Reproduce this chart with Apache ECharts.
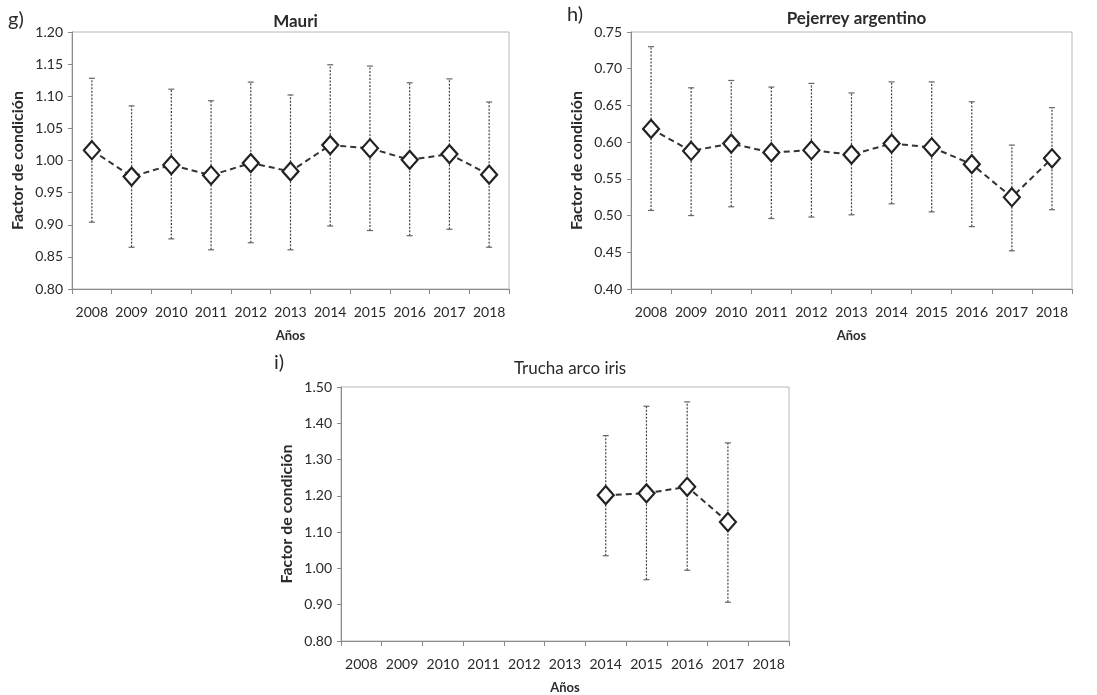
<!DOCTYPE html>
<html>
<head>
<meta charset="utf-8">
<script src="https://cdn.jsdelivr.net/npm/echarts@6/dist/echarts.min.js"></script>
<style>
  html, body { margin: 0; padding: 0; background: #fff; }
  #chart { width: 1097px; height: 695px; }
</style>
</head>
<body>
<div id="chart"></div>
<script>
// Condition factor by year (mean and range) for three fish species
const years = ['2008', '2009', '2010', '2011', '2012', '2013', '2014', '2015', '2016', '2017', '2018'];

// g) Mauri
const mauriMean = [1.016, 0.975, 0.993, 0.977, 0.996, 0.983, 1.024, 1.019, 1.001, 1.010, 0.978];
const mauriLow  = [0.904, 0.865, 0.878, 0.861, 0.872, 0.861, 0.898, 0.891, 0.883, 0.893, 0.865];
const mauriHigh = [1.128, 1.085, 1.111, 1.093, 1.122, 1.102, 1.149, 1.147, 1.121, 1.127, 1.091];

// h) Pejerrey argentino
const pejMean = [0.618, 0.588, 0.598, 0.586, 0.589, 0.583, 0.598, 0.593, 0.570, 0.525, 0.578];
const pejLow  = [0.507, 0.500, 0.512, 0.496, 0.498, 0.501, 0.516, 0.505, 0.485, 0.452, 0.508];
const pejHigh = [0.730, 0.674, 0.684, 0.675, 0.680, 0.667, 0.682, 0.682, 0.655, 0.596, 0.647];

// i) Trucha arco iris (sampled 2014-2017 only)
const truMean = [null, null, null, null, null, null, 1.202, 1.207, 1.225, 1.128, null];
const truLow  = [null, null, null, null, null, null, 1.035, 0.969, 0.995, 0.907, null];
const truHigh = [null, null, null, null, null, null, 1.366, 1.447, 1.459, 1.346, null];

const panelTitles = ['Mauri', 'Pejerrey argentino', 'Trucha arco iris'];
const panelTags = ['g)', 'h)', 'i)'];
const xName = 'Años';
const yName = 'Factor de condición';

const FONT = 'Lato, "Noto Sans", sans-serif';
const TXT = '#2a2a2a';

const grids = [
  { left: 72, top: 32, width: 437, height: 257 },
  { left: 631, top: 32, width: 441, height: 257 },
  { left: 341, top: 387, width: 448, height: 255 }
];
// panel title offsets and tag positions
const titleTop = [8, 5, 355];
const titleWeight = ['bold', 'bold', 'normal'];
const tagPos = [[8, 10], [567, 5], [274, 353]];

const yRanges = [
  { min: 0.80, max: 1.20, interval: 0.05 },
  { min: 0.40, max: 0.75, interval: 0.05 },
  { min: 0.80, max: 1.50, interval: 0.10 }
];
const means = [mauriMean, pejMean, truMean];
const lows = [mauriLow, pejLow, truLow];
const highs = [mauriHigh, pejHigh, truHigh];

function errorBarItem(params, api) {
  const x = api.value(0);
  const lo = api.coord([x, api.value(1)]);
  const hi = api.coord([x, api.value(2)]);
  const cap = 3;
  const style = { stroke: '#444', lineWidth: 1.2, lineDash: [2, 1.5] };
  const capStyle = { stroke: '#666', lineWidth: 1.2 };
  return {
    type: 'group',
    children: [
      { type: 'line', shape: { x1: lo[0], y1: lo[1], x2: hi[0], y2: hi[1] }, style: style },
      { type: 'line', shape: { x1: hi[0] - cap, y1: hi[1], x2: hi[0] + cap, y2: hi[1] }, style: capStyle },
      { type: 'line', shape: { x1: lo[0] - cap, y1: lo[1], x2: lo[0] + cap, y2: lo[1] }, style: capStyle }
    ]
  };
}

const option = {
  backgroundColor: '#fff',
  animation: false,
  title: grids.map((g, i) => ({
    text: panelTitles[i],
    left: g.left + g.width / 2,
    top: titleTop[i],
    textAlign: 'center',
    textStyle: { fontFamily: FONT, fontSize: 17, fontWeight: titleWeight[i], color: TXT }
  })),
  graphic: grids.map((g, i) => ({
    type: 'text',
    left: tagPos[i][0],
    top: tagPos[i][1],
    style: { text: panelTags[i], font: '20px ' + FONT, fill: TXT }
  })),
  grid: grids.map(g => Object.assign({
    show: true, borderColor: '#b8b8b8', borderWidth: 1, backgroundColor: '#fff'
  }, g)),
  xAxis: grids.map((g, i) => ({
    type: 'category',
    gridIndex: i,
    data: years,
    boundaryGap: true,
    name: xName,
    nameLocation: 'middle',
    nameGap: 40,
    nameTextStyle: { fontFamily: FONT, fontSize: 13, fontWeight: 'bold', color: TXT },
    axisLine: { lineStyle: { color: '#8a8a8a', width: 1 } },
    axisTick: { show: true, length: 5, lineStyle: { color: '#8a8a8a' } },
    axisLabel: { fontFamily: FONT, fontSize: 14, color: TXT, margin: 16, interval: 0 },
    splitLine: { show: false }
  })),
  yAxis: grids.map((g, i) => ({
    type: 'value',
    gridIndex: i,
    min: yRanges[i].min,
    max: yRanges[i].max,
    interval: yRanges[i].interval,
    name: yName,
    nameLocation: 'middle',
    nameGap: 46,
    nameTextStyle: { fontFamily: FONT, fontSize: 16, fontWeight: 'bold', color: TXT },
    axisLine: { show: true, lineStyle: { color: '#8a8a8a', width: 1 } },
    axisTick: { show: true, length: 4, lineStyle: { color: '#8a8a8a' } },
    axisLabel: {
      fontFamily: FONT, fontSize: 14, color: TXT, margin: 9,
      formatter: v => v.toFixed(2)
    },
    splitLine: { show: false }
  })),
  series: [].concat(...grids.map((g, i) => [
    {
      type: 'custom',
      xAxisIndex: i,
      yAxisIndex: i,
      renderItem: errorBarItem,
      encode: { x: 0, y: [1, 2] },
      data: years.map((y, k) => lows[i][k] == null ? null : [k, lows[i][k], highs[i][k]]).filter(d => d),
      z: 2
    },
    {
      type: 'line',
      xAxisIndex: i,
      yAxisIndex: i,
      data: means[i],
      connectNulls: false,
      symbol: 'diamond',
      symbolSize: [16, 18],
      showAllSymbol: true,
      lineStyle: { color: '#333', width: 2, type: [6, 4] },
      itemStyle: { color: '#fff', borderColor: '#222', borderWidth: 2.2 },
      z: 3
    }
  ]))
};

const chart = echarts.init(document.getElementById('chart'), null, { renderer: 'canvas' });
chart.setOption(option);
</script>
</body>
</html>
